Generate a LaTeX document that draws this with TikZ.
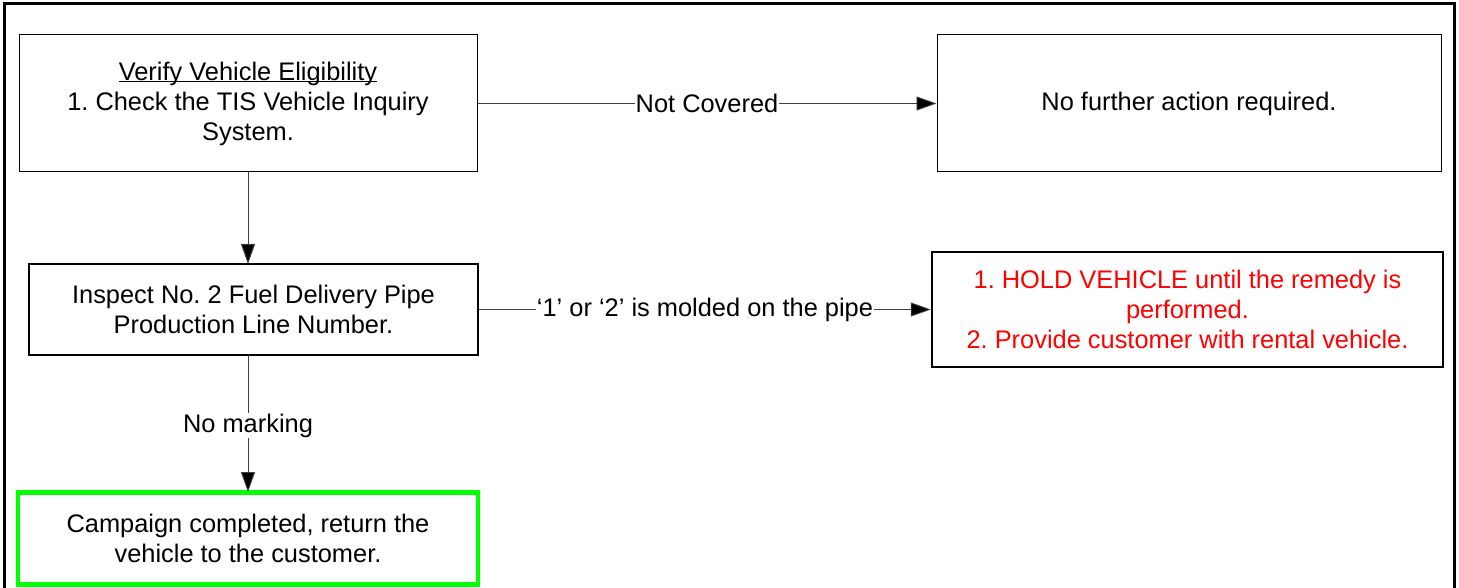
\documentclass[tikz,border=0pt]{standalone}
\usepackage{fontspec}
\setmainfont{Liberation Sans}
\usetikzlibrary{arrows.meta}
\definecolor{alertred}{RGB}{255,0,0}
\definecolor{okgreen}{RGB}{0,255,0}
\frenchspacing
\tikzset{
  txt/.style={font=\fontsize{25.4}{30}\selectfont},
  box/.style={draw=black, line width=1pt, align=center, inner sep=0pt, txt},
  boldbox/.style={box, line width=2.5pt},
  greenbox/.style={box, draw=okgreen, line width=4.5pt},
  conn/.style={draw=black!75, line width=0.9pt, -{Triangle[length=20pt,width=14pt,fill=black]}},
  lbl/.style={fill=white, inner sep=1pt, txt}
}
\begin{document}
\begin{tikzpicture}[x=1pt,y=-1pt]
\useasboundingbox (0,0) rectangle (1459,588);
\draw[line width=3pt] (4,600) -- (4,4) -- (1454,4) -- (1454,600);
\node[box, minimum width=458pt, minimum height=137pt] (a) at (248,103.5)
  {\underline{\raisebox{0pt}[\height][0pt]{Verify Vehicle Eligibility}}\\1. Check the TIS Vehicle Inquiry\\System.};
\node[box, minimum width=504pt, minimum height=137pt] (b) at (1189,103.5)
  {No further action required.};
\node[boldbox, minimum width=449pt, minimum height=91pt] (c) at (253.5,309.5)
  {Inspect No. 2 Fuel Delivery Pipe\\Production Line Number.};
\node[boldbox, minimum width=511pt, minimum height=115pt, text=alertred] (d) at (1187.5,309.5)
  {1. HOLD VEHICLE until the remedy is\\performed.\\2. Provide customer with rental vehicle.};
\node[greenbox, minimum width=460pt, minimum height=92pt] (e) at (248,538.5)
  {Campaign completed, return the\\vehicle to the customer.};
\coordinate (atop) at (248,172);
\coordinate (ctop) at (248,264);
\coordinate (cbot) at (248,355);
\coordinate (etop) at (248,492);
\draw[conn] (a.east) -- node[lbl] {Not Covered} (b.west);
\draw[conn] (atop) -- (ctop);
\draw[conn] (c.east) -- node[lbl, pos=0.5] {‘1’ or ‘2’ is molded on the pipe} (d.west);
\draw[conn] (cbot) -- node[lbl, pos=0.5, yshift=-2pt] {No marking} (etop);
\end{tikzpicture}
\end{document}
